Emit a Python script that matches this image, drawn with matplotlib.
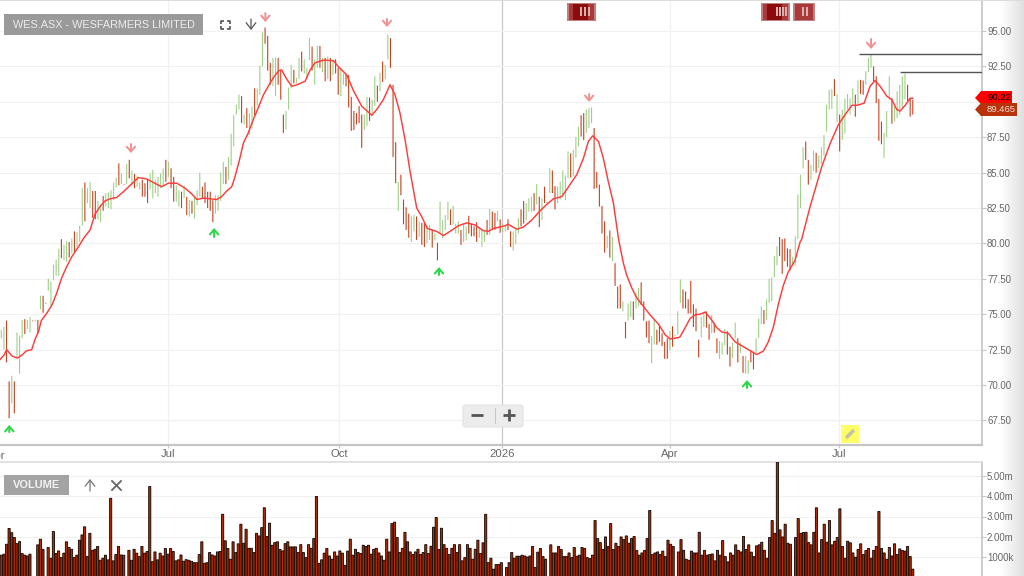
import numpy as np
import matplotlib
matplotlib.use("Agg")
import matplotlib.pyplot as plt
from matplotlib.patches import Rectangle, Polygon, FancyBboxPatch

plt.rcParams['font.family'] = ['Liberation Sans', 'DejaVu Sans']

title = "WES.ASX - WESFARMERS LIMITED"
price_ticks = [95, 92.5, 90, 87.5, 85, 82.5, 80, 77.5, 75, 72.5, 70, 67.5]
vol_ticks = [5, 4, 3, 2, 1]
vol_tick_labels = ["5.00m", "4.00m", "3.00m", "2.00m", "1000k"]
date_ticks = [62.4, 126.8, 187.9, 250.7, 314.0]
date_labels = ["Jul", "Oct", "2026", "Apr", "Jul"]
first_date_tick = -1.6
first_date_label = "Apr"

highs = [
 73.9,74.1,74.55,70.25,70.65,70.25,73.7,73.5,74.6,74.65,
 74.6,74.8,74.55,74.55,74.6,76.3,76.3,75.8,77.5,77.3,
 78.5,78.85,79.6,80.3,79.9,80.15,80.1,80.35,80.85,80.8,
 81.25,83.9,84.3,83.9,84.35,83.7,83.7,83,82.75,83.35,
 83.55,83.6,83.75,84.3,84.65,85.65,84.95,84.2,85.6,85.9,
 85.15,84.9,84.75,84.3,84.5,84.25,84.5,84.95,85.2,84.5,
 84.7,84.95,85.3,85.9,85.75,85.3,84.7,84.1,83.75,83.65,
 84.1,83.3,83.05,83,83.3,83.75,85,84,84.3,83.65,
 83.65,83.05,83.4,83.4,85,85.75,85.4,86.1,87.75,89.05,
 89.8,90.5,90.4,89.1,89.55,89.2,89.65,90.95,90.95,92.55,
 94.9,95.25,94.65,92.75,93.1,93.15,93.1,92.25,89.1,89.35,
 91,92.6,92.25,91.7,93.1,93.55,93,92.4,94.5,93.9,
 93,93.95,93.95,93.1,93.1,93.2,93.1,93,93,92.4,
 92.4,92,91.95,91.9,90.35,89.35,89.2,89.7,89.1,89.1,
 90.35,90.3,90.15,91.8,91.15,92.05,92.85,92.6,94.75,94.5,
 91.2,87.15,84.35,84.85,83.1,82.55,82.1,81.9,82,81.9,
 81.55,81.45,81.45,81.3,81.3,80.95,80.7,80.05,82.95,81.65,
 82,82.95,82.4,82.65,81.4,81.55,80.95,81.4,81.2,81.95,
 81.4,81.2,81.5,81.1,80.95,80.85,81.65,82.45,82.25,82.15,
 82.3,81.7,81.4,81.3,81.7,80.85,80.85,80.95,81.8,82.4,
 83,82.85,83.2,83.3,83.55,84.2,83.3,83.2,84,82.9,
 85.3,85.15,84.05,84,84.35,85.15,84.8,86.5,86.35,86.6,
 87.5,88.25,89.05,89.2,89.45,89.55,89.6,88.15,85.05,84.15,
 82.65,81.55,80.55,80.9,80.45,78.6,76.95,77.1,75.9,74.45,
 75.75,75.9,75.9,76.5,76.85,77.25,75.9,74.5,74.55,73.45,
 74.6,73.9,74.25,73.65,73.05,73.3,73.8,74.15,73.5,75.2,
 77.45,76.75,76.6,76.05,77.35,75.7,75.4,73.2,74.8,75.1,
 75.2,74.3,74.95,74.4,73.3,73.1,73,73.95,73.8,72.7,
 73,74.4,73.3,73,72.05,72.05,71.75,72.45,72.35,73.3,
 74.7,75.55,75.3,76.05,77.5,77.6,79.1,79.8,80.45,80.3,
 80.35,79.65,79.6,79.05,80.5,83.45,84.85,86.8,87.2,85.9,
 85.55,86.55,86.4,86.2,86.8,87.65,89.8,90.85,90.9,91.6,
 90.55,89.1,89.45,90.25,90.55,90.25,90.95,90.5,91.5,91.55,
 91.5,92.15,93.1,93.35,92.5,91.8,90.2,88.6,87.8,89.35,
 91.8,90.25,89.65,90.75,91.2,91.8,92,91.2,90.25,90.15,
]
lows = [
 73.3,72.5,71.6,67.65,68.7,68,71.9,70.8,73.3,73.6,
 73.95,73.7,74.5,74.5,73.65,75.35,75.1,75.75,76.65,75.6,
 77.4,77.7,77.7,78.95,78.8,78.7,79,79.3,79.4,79.8,
 80.1,81.25,81.55,82.85,82.5,81.8,81.7,81.7,81.5,82.3,
 82.6,82.5,82.4,83.05,83.95,84.1,84.2,84.15,84.2,84.6,
 84.1,83.9,84,83.8,83.3,83.3,82.85,83.8,83.2,83.55,
 83.3,83.9,84,84.35,84.7,83.9,82.95,82.95,82.6,82.5,
 83.2,82,81.9,82.1,81.75,82.7,83.3,83.2,82.85,82.5,
 82.3,81.5,82.1,82.3,83,84.2,84.2,84.5,85.5,86.85,
 89.1,89.45,88.5,88.4,88.15,87.65,88.15,89.05,89.7,90.5,
 92.5,94.1,92.2,91.2,91.1,90.4,91.2,90.15,87.8,88.05,
 89.45,90.95,91.3,91.3,91.6,92.15,92,91.6,92.95,92.2,
 91.2,92.4,92.4,92.1,91.45,91.6,91.45,91.9,92,90.5,
 90.4,91.2,91.1,89.6,87.95,88,88.4,88.5,86.75,88,
 88.3,88.65,89,89.7,90,90.75,91.4,91.6,93,92.4,
 86.1,84.25,82.3,83.4,81.35,80.95,80.4,80.1,80.85,80.25,
 80.45,79.9,79.75,80,80.25,79.7,80.2,78.8,80.7,80.35,
 80.95,81.65,81.3,81.35,80.7,80.7,79.9,80.1,80.2,80.7,
 80.5,80.5,80.1,80.4,79.75,80.1,80.6,80.6,80.95,80.95,
 81.55,80.75,80.8,80.85,80.95,79.75,79.5,79.95,80.7,81.2,
 81.4,81.65,82.25,82.25,82.3,82.75,81.15,81.65,82.85,82.85,
 83.55,83.55,82.4,82.85,83.1,83.3,83.05,84.6,84.65,84.75,
 86.05,86.85,87.55,87.3,87.8,88.15,88.5,83.85,83.9,82.6,
 80.7,79.35,79.65,79,78.75,77,75.4,75.4,75.2,73.3,
 74.55,74.8,74.6,75.4,75.55,75.65,74.55,73.35,72.95,71.55,
 72.85,72.85,73.05,72.75,71.85,71.85,72.45,72.7,73.45,73.55,
 75.8,75.4,75.4,75.05,75.05,74.1,73.8,71.95,73.35,74.1,
 74.05,73.2,73.65,73.7,72.25,71.85,72.15,72.8,72.15,71.3,
 71.9,73.3,71.6,72.25,70.85,70.8,70.8,71.6,71.1,72.25,
 73.3,74.3,74.3,74.6,75.8,75.9,77.6,78.45,79.1,77.85,
 78.75,78.35,78.1,78.45,78.45,80.3,82.5,85.3,85.9,84.15,
 84.5,85.1,85,85.3,85.6,86.2,87.9,89.45,89.5,90.4,
 88.55,86.5,87.3,87.75,89.45,89.1,89.7,88.95,89.8,90.55,
 90.5,91.2,92.1,92.4,91.4,89.9,87.25,87,86.05,87.5,
 90.15,88.45,88.6,88.85,89.1,89.55,90.2,90.05,88.95,89.1,
]
directions = (
 "ggrrgrgggr" "ggrrrgrrgg" "gggrggrgrg" "ggrggrrggr" "gggggrgrgr"
 "grggrrrggg" "gggrgrrggr" "grgrgggrrr" "rrggggrggg" "ggrgrggrgg"
 "grrrggrrrg" "ggrggrgggr" "ggrgrgrgrr" "ggrrrrrrrg" "grggrgrggr"
 "rrgrrrrggr" "grrggrgrgg" "ggrgggrggr" "rrrgggrgrr" "grggrrgggr"
 "rgggrgrgrr" "grrgggggrg" "ggrrgggrrr" "rrgrgrrrgr" "ggrggrrrrg"
 "grrrrrgrrg" "grrrrrrrgg" "rrgrrgggrr" "ggrgrggrrg" "ggrgggggrr"
 "rrrgggggrr" "ggrggggggr" "grgggggrgr" "rgggrrrrgg" "grgggggrrr"
)

volumes = [
 1.09,1.14,1.63,2.41,2.2,1.96,1.66,1.76,1.17,1.09,1.05,1.14,0,0,1.6,1.88,1.38,0,1.47,0.94,
 2.26,1.17,1.3,0.97,1.19,1.75,1.47,1.38,0.97,1.09,1.83,2.09,2.49,1.02,2.17,1.33,1.38,1.52,0.84,0.94,
 1.09,0.86,3.9,0.81,1.12,1.52,1.1,1.09,0,1.33,0.84,1.38,1.19,1.02,1.52,1.19,1.27,4.48,0.77,1.25,
 0.86,1.19,1.05,1.42,1.14,1.42,1.27,0.81,0.86,1.1,0.79,0.87,0.84,0.79,0.72,0.72,1.12,1.75,0.69,0.72,
 1.22,1.1,1.05,1.25,1.27,3.11,1.8,1.42,0.89,1.75,1.22,1.65,2.62,1.68,2.37,1.43,1.43,1.22,2.17,2.04,
 2.45,3.43,2.01,2.67,1.58,1.71,1.75,1.38,1.3,1.66,1.75,1.5,1.5,1.5,1.22,1.61,1.22,0.97,1.61,1.43,
 1.91,3.99,0.69,0.86,1.19,1.42,1.05,0.89,1.25,1.05,
 1.3,1.19,0.59,1.29,1.88,1.09,1.38,1.22,1.17,1.58,1.52,1.58,1.14,1.38,1.43,1.2,1.05,0.84,1.88,1.25,
 2.65,2.72,1.96,1.22,1.43,2.22,1.75,1.25,1.12,1.25,1.38,1.12,1.22,1.61,1.17,1.53,2.47,2.95,1.37,2.42,
 1.61,1.43,1.12,1.43,1.61,1.22,1.61,0.81,0.97,1.61,1.43,0.89,1.38,1.83,1.17,1.7,3.11,0.72,0.94,0.4,
 0.63,0.63,0.72,0,0.48,0.72,1.22,0.94,1.04,1.04,1.09,1.05,1.0,1.05,1.52,0.48,1.24,1.42,1.02,0.89,
 0,1.6,1.2,1.2,1.52,1.37,1.02,1.02,1.2,0.97,1.47,1.04,1.09,1.47,1.42,0.97,0.92,1.09,2.8,1.91,
 1.71,1.37,1.99,1.52,2.65,1.37,1.68,1.52,1.99,1.86,2.04,1.68,1.91,2.01,1.32,1.09,1.2,1.32,1.91,3.3,
 1.12,1.2,1.25,1.12,1.29,1.02,1.83,1.63,1.52,0,1.25,
 1.86,1.33,0.89,0.84,1.29,1.2,1.2,2.22,1.09,1.33,1.09,1.12,1.15,0.81,1.33,1.09,1.81,1.02,0.76,1.2,
 1.09,1.6,1.33,1.25,2.01,1.37,1.6,1.24,1.02,1.55,1.6,1.73,1.33,0.94,1.96,2.8,2.17,5.7,2.34,1.99,
 2.62,1.68,1.63,0,1.96,2.9,2.17,2.21,2.22,1.71,1.6,2.22,3.43,1.2,1.86,2.62,1.73,2.8,1.6,1.78,
 1.96,3.38,1.52,0.94,1.78,1.7,1.2,0.99,1.37,1.65,1.12,1.32,1.42,0.94,1.33,1.52,3.25,1.42,1.2,0.89,
 1.47,1.05,1.65,1.12,1.4,1.32,1.29,1.52,1.02,0.4,
]

ma_pos = [-0.5,1,2,4,6,8,9.3,11.4,12.6,14,15,17,19,20.8,22.6,24.5,26.4,28.9,30.8,33.3,35.1,37,38.9,40.8,43.3,45.8,
 48.3,51.4,54.5,57.6,60.1,62.6,65.8,68.9,71.4,73.3,75.8,80.8,82.6,84.5,86.4,87.6,89.3,90.8,92.6,94.5,96.4,98.3,
 100.1,102,104,105.1,107,108.9,110.8,113.9,115.8,117.6,120.8,124.5,126.8,129.5,132,135.1,138.9,140.75,143.25,
 145.75,147.6,149.5,151.4,153.25,155.75,157.6,159.75,163.25,165.75,168.25,171.4,174.5,177.6,180.75,182.6,184.5,
 188.9,190.1,193.25,195.75,198.9,202,204.5,207,210.1,212,213.9,215.75,218.25,220.1,221.75,223.9,225.75,227.6,
 229.5,231.4,232,233.25,234.5,236.4,238.25,240.75,243.25,246.4,248.9,250.75,253.9,254.5,256.4,258.25,260.1,262,
 263.9,265.75,268.25,270.1,272.6,275.1,278.25,281.4,283.25,285.75,287.6,289.5,291.4,293.25,295.1,297.6,299.5,
 300.1,303.25,307.6,310.75,313.9,316.4,318.9,320.75,323.5,325.75,327.6,329.5,332,333.9,335.75,337,338.9,340.75,341.75]
ma_vals = [71.8,72.1,72.5,72.05,71.9,72.15,72.4,72.5,73.2,73.8,74.55,75.05,75.65,76.5,77.55,78.35,79.05,79.75,80.35,80.95,82.05,82.6,83,83.15,83.25,83.65,
 84.1,84.65,84.55,84.25,84,84.25,84.25,83.9,83.5,83.1,83.2,83.1,83.3,83.7,84,84.7,85.9,87.1,87.8,88.75,89.6,90.5,
 91.1,91.7,92.2,92.25,91.6,91.1,91.2,91.45,92.25,92.75,92.95,92.9,92.4,91.9,90.8,89.7,89.05,89.45,90.15,
 91.2,90.5,89.2,87.3,85.1,82.5,81.9,81.05,80.85,80.55,80.85,81.25,81.45,81.3,80.9,80.85,81.05,
 81.25,81.35,81,81.15,81.65,82.3,82.75,83.15,83.3,83.8,84.35,84.85,86,87.2,87.6,87.2,86,84.35,
 82.85,80.35,79.75,78.6,77.75,76.85,76.15,75.55,74.95,74.3,73.55,73.25,73.35,73.4,74.05,74.7,74.95,75,
 75.15,74.75,74.05,73.75,73.65,73.05,72.7,72.35,72.15,72.4,73.05,74.1,75.75,77.05,78,78.8,80.1,
 80.3,82.6,85.4,87.05,88.4,89.1,89.75,89.75,89.9,91.1,91.5,91.1,90.4,90.15,89.45,89.35,89.75,90.25,90.25]

buy_pos = [3.0, 79.8, 164.1, 279.6]
buy_tip = [67.18, 81.09, 78.33, 70.35]
buy_tail = [66.68, 80.45, 77.77, 69.79]
sell_pos = [48.6, 99.0, 144.6, 220.4, 326.1]
sell_tail = [87.02, 96.27, 95.85, 90.55, 94.44]
sell_tip = [86.38, 95.64, 95.28, 89.99, 93.73]
level_starts = [321.6, 337.0]
level_values = [93.4, 92.1]

W, H = 1024, 576
fig = plt.figure(figsize=(W/100, H/100), dpi=100, facecolor='white')
def rect(x0, y0, x1, y1):
    return [x0/W, 1-y1/H, (x1-x0)/W, (y1-y0)/H]

TXT = '#666666'; GRID = '#f1f1f1'; AXIS = '#c4c4c4'
XL = (-0.4874, 367.7)

# ---------- page shading at the right edge, under everything
bg = fig.add_axes([0, 0, 1, 1], zorder=-1)
bg.axis('off')
bg.imshow(np.linspace(1, 0.875, 64)[None, :], extent=(1000, 1024, 576, 0), cmap='gray', vmin=0, vmax=1, aspect='auto')
bg.set_xlim(0, W); bg.set_ylim(H, 0)

# ---------- price panel
ax = fig.add_axes(rect(0, 1, 982, 445))
n = len(highs)
xs = np.arange(n)*341.75/(n-1)
green, red = '#9fd088', '#c7411f'
cols = [green if d == 'g' else red for d in directions]
lc = ax.vlines(xs, lows, highs, colors=cols, linewidth=0.8, zorder=3)
lc.set_snap(False)
ax.plot(ma_pos, ma_vals, color='#ff3b3b', lw=1.05, zorder=4, solid_joinstyle='round')
for p, a, b in zip(buy_pos, buy_tail, buy_tip):
    ax.annotate('', xy=(p, b), xytext=(p, a), zorder=5,
                arrowprops=dict(arrowstyle='->,head_length=0.35,head_width=0.3', mutation_scale=10,
                                color='#2fd84a', lw=1.5, shrinkA=0, shrinkB=0))
for p, a, b in zip(sell_pos, sell_tail, sell_tip):
    ax.annotate('', xy=(p, b), xytext=(p, a), zorder=5,
                arrowprops=dict(arrowstyle='->,head_length=0.35,head_width=0.3', mutation_scale=10,
                                color='#f29090', lw=1.4, shrinkA=0, shrinkB=0))
for s, v in zip(level_starts, level_values):
    ax.plot([s, XL[1]], [v, v], color='#555555', lw=1.0, zorder=5, solid_capstyle='butt')

ax.set_yticks(price_ticks)
ax.set_yticklabels([f"{t:.2f}" for t in price_ticks], fontsize=6.9, color=TXT)
ax.yaxis.tick_right()
ax.set_xticks(date_ticks)
ax.set_xticklabels(date_labels, fontsize=8.1, color=TXT)
ax.set_xlim(*XL)
ax.set_ylim(95-(445-31)/14.16, 95-(1-31)/14.16)
ax.text(first_date_tick, -0.0145, first_date_label, transform=ax.get_xaxis_transform(), fontsize=8.1,
        color=TXT, ha='center', va='top', clip_on=False)
ax.tick_params(axis='y', length=2.6, width=0.8, color=AXIS, pad=1.0)
ax.tick_params(axis='x', length=2.4, width=0.8, color=AXIS, pad=0.6)
ax.grid(True, color=GRID, lw=0.9, zorder=0)
ax.get_xgridlines()[2].set_color('#c8c8c8')
ax.get_xgridlines()[2].set_linewidth(0.9)
for k in ('top', 'left'):
    ax.spines[k].set_visible(False)
ax.spines['bottom'].set_color(AXIS); ax.spines['bottom'].set_linewidth(1.6)
ax.spines['right'].set_color(AXIS); ax.spines['right'].set_linewidth(1.2)

# ---------- volume panel
av = fig.add_axes(rect(0, 462, 982, 576))
m = len(volumes)
vx = np.arange(m)*341.75/(m-1)
bars = av.bar(vx, volumes, width=0.8, color='#b52c00', edgecolor='#120502', linewidth=0.62, zorder=3)
for b in bars:
    b.set_snap(False)
av.set_xlim(*XL)
av.set_ylim((577.25-576)/20.25, (577.25-462)/20.25)
av.set_yticks(vol_ticks)
av.set_yticklabels(vol_tick_labels, fontsize=6.9, color=TXT)
av.yaxis.tick_right()
av.set_xticks([])
av.tick_params(axis='y', length=2.6, width=0.8, color=AXIS, pad=1.0)
av.grid(True, axis='y', color=GRID, lw=0.9, zorder=0)
for k in ('bottom', 'left'):
    av.spines[k].set_visible(False)
av.spines['top'].set_color('#dddddd'); av.spines['top'].set_linewidth(1.2)
av.spines['right'].set_color(AXIS); av.spines['right'].set_linewidth(1.2)

# ---------- chrome overlay (widgets of the page, in pixels)
ov = fig.add_axes([0, 0, 1, 1], zorder=10)
ov.set_xlim(0, W); ov.set_ylim(H, 0); ov.axis('off'); ov.patch.set_alpha(0)
ov.add_patch(Rectangle((0, 0), 1024, 1.3, color='#dcdcdc', lw=0))

ov.add_patch(Rectangle((4, 14), 199, 20.5, color='#9a9a9a', lw=0))
ov.text(13, 24.5, title, color='#ececec', fontsize=7.8, va='center', ha='left')
ov.add_patch(Rectangle((4, 475), 64.5, 20, color='#a3a3a3', lw=0))
ov.text(36.5, 485.2, "VOLUME", color='#f2f2f2', fontsize=7.9, va='center', ha='center', fontweight='bold')

for (cx, cy, dx, dy) in [(220.5, 20.5, 1, 1), (229.5, 20.5, -1, 1), (220.5, 28.5, 1, -1), (229.5, 28.5, -1, -1)]:
    ov.plot([cx+3*dx, cx, cx], [cy, cy, cy+3*dy], color='#444444', lw=1.1, solid_capstyle='butt')
ov.annotate('', xy=(251, 30), xytext=(251, 19), arrowprops=dict(arrowstyle='->,head_length=0.45,head_width=0.35', mutation_scale=10, color='#555555', lw=0.9, shrinkA=0, shrinkB=0))
ov.annotate('', xy=(90, 479), xytext=(90, 491), arrowprops=dict(arrowstyle='->,head_length=0.45,head_width=0.35', mutation_scale=10, color='#777777', lw=0.9, shrinkA=0, shrinkB=0))
ov.plot([112, 121], [481, 490], color='#666666', lw=1.3)
ov.plot([112, 121], [490, 481], color='#666666', lw=1.3)

for x0, x1, st in [(567, 596, [580, 584, 588]), (761, 790, [776, 779, 782, 785]), (793, 815, [802, 806])]:
    ov.add_patch(Rectangle((x0, 2.5), x1-x0, 18, color='#c08080', lw=0))
    ov.add_patch(Rectangle((x0+2, 3.5), x1-x0-4, 16, color='#aa3a3a', lw=0))
    if x1-x0 > 25:
        ov.add_patch(Rectangle((x0+6, 3.5), x1-x0-14, 16, color='#8a0c0c', lw=0))
    for s in st:
        ov.add_patch(Rectangle((s, 7), 1.6, 9, color='#d8b0b0', lw=0))

ov.add_patch(FancyBboxPatch((463, 405), 60, 22, boxstyle='round,pad=0,rounding_size=2.5', fc='#ececec', ec='#e2e2e2', lw=0.8))
ov.plot([471, 483], [415, 415], color='#555555', lw=2.0, solid_capstyle='butt')
ov.plot([503, 515], [415, 415], color='#555555', lw=2.0, solid_capstyle='butt')
ov.plot([509, 509], [409, 421], color='#555555', lw=2.0, solid_capstyle='butt')
ov.plot([494.5, 494.5], [408, 423], color='#c8c8c8', lw=0.8)

ov.add_patch(Rectangle((841, 425), 18, 18, color='#ffff66', lw=0))
ov.plot([846, 854], [438, 430], color='#c4c4a0', lw=2.6, solid_capstyle='butt')

ov.add_patch(Polygon([(975, 98), (981, 91), (1012, 91), (1012, 104), (981, 104)], fc='#ff0000', ec='none'))
ov.add_patch(Polygon([(975, 109.5), (981, 103), (1017, 103), (1017, 116), (981, 116)], fc='#b8320a', ec='none'))
ov.text(987, 97.2, "90.22", fontsize=6.8, color='#000000', va='center', ha='left')
ov.text(987, 110, "89.465", fontsize=6.8, color='#f5e0d8', va='center', ha='left')

fig.savefig('out.png', dpi=100)
